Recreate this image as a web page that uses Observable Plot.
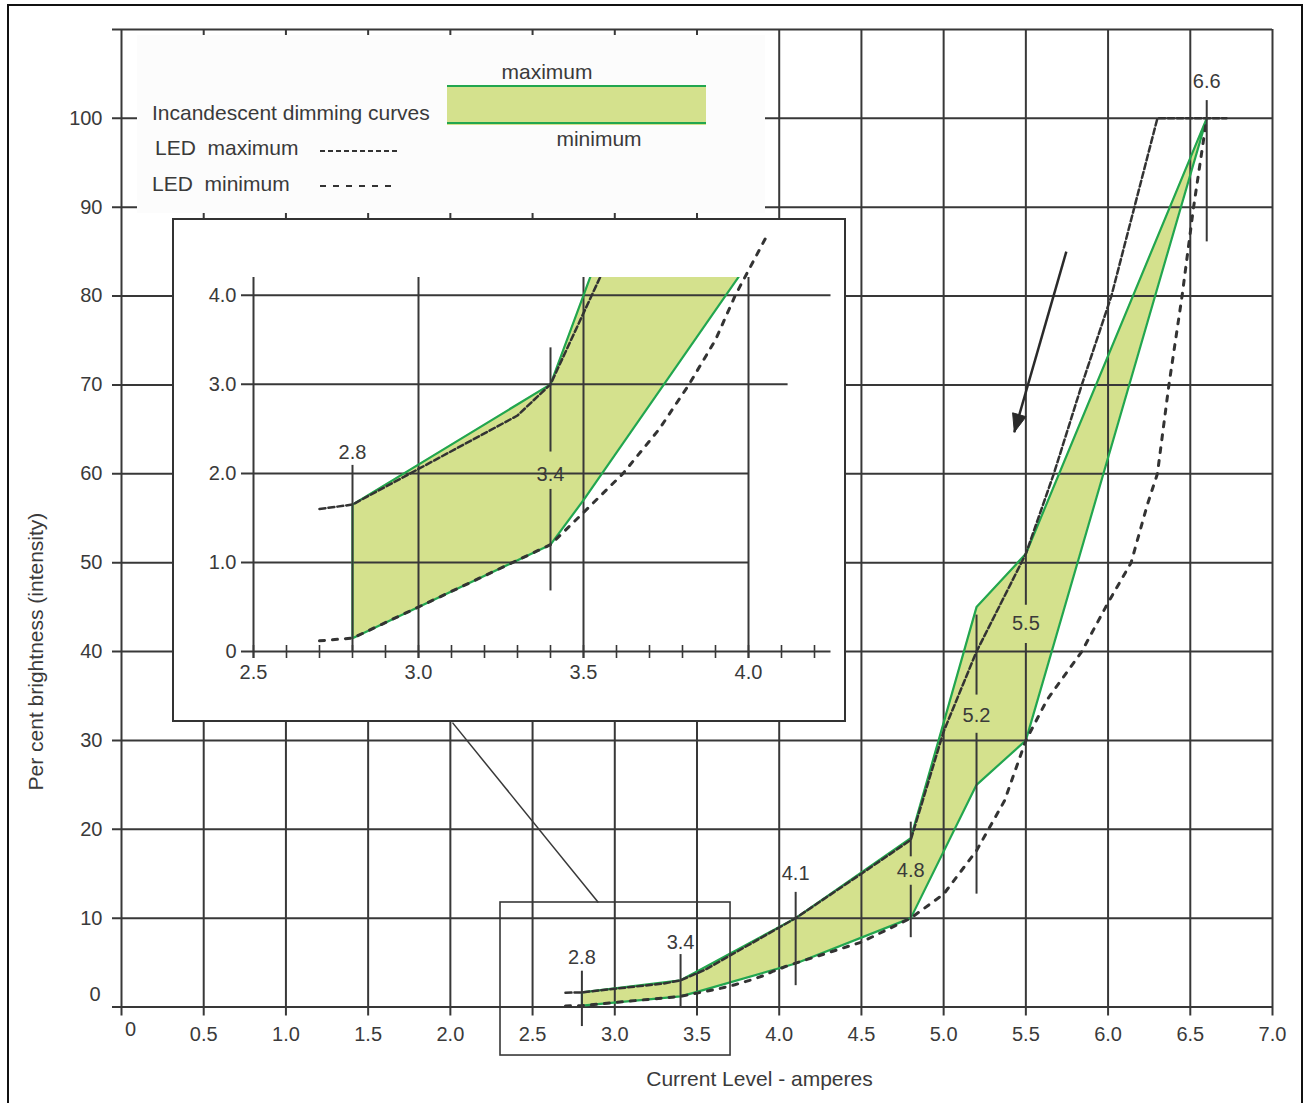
<!DOCTYPE html>
<html>
<head>
<meta charset="utf-8">
<script src="https://cdn.jsdelivr.net/npm/d3@7"></script>
<script src="https://cdn.jsdelivr.net/npm/@observablehq/plot@0.6"></script>
<style>
  body { margin: 0; background: #fff; }
  #wrap { position: relative; width: 1304px; height: 1103px; overflow: hidden; background: #fff; }
  #frame { position: absolute; left: 7px; top: 4px; width: 1296px; height: 1130px; border: 2.5px solid #111; box-sizing: border-box; pointer-events: none; }
  #insetBorder { position: absolute; left: 172px; top: 218px; width: 674px; height: 504px; border: 2px solid #333; box-sizing: border-box; pointer-events: none; }
</style>
</head>
<body>
<div id="wrap"></div>
<script>
// ---------------- DATA ----------------
// Incandescent dimming band (x = current in A, y = % brightness)
const incX   = [2.8, 3.4, 3.5, 4.1, 4.8, 5.2, 5.5, 6.6];
const incMax = [1.65, 3.0, 4.0, 10, 19, 45, 51, 100];
const incMin = [0.15, 1.2, 1.7, 4.9, 10, 25, 30, 100];

// LED maximum (fine dashes)
const ledMaxX = [2.7, 2.8, 3.0, 3.3, 3.4, 3.5, 3.55, 4.1, 4.5, 4.8, 5.0, 5.2, 5.5, 5.67, 5.84, 6.02, 6.16, 6.3, 6.72];
const ledMaxY = [1.6, 1.65, 2.05, 2.65, 3.0, 3.8, 4.2, 10, 15, 18.8, 31, 40, 51, 60, 70, 80, 90, 100, 100];

// LED minimum (coarse dashes)
const ledMinX = [2.7, 2.8, 3.4, 3.5, 3.62, 3.73, 3.82, 3.9, 3.96, 4.06, 4.5, 4.8, 5.0, 5.2, 5.37, 5.5, 5.63, 5.84, 6.0, 6.14, 6.24, 6.3, 6.37, 6.45, 6.52, 6.6];
const ledMinY = [0.12, 0.15, 1.2, 1.56, 2.0, 2.5, 3.0, 3.5, 4.0, 4.7, 7.3, 10, 12.7, 17.6, 23.2, 30, 34.6, 40, 45.5, 50, 56.6, 60, 70, 80, 90, 100];

// Main axes ticks
const xTicks = [0, 0.5, 1.0, 1.5, 2.0, 2.5, 3.0, 3.5, 4.0, 4.5, 5.0, 5.5, 6.0, 6.5, 7.0];
const yTicks = [0, 10, 20, 30, 40, 50, 60, 70, 80, 90, 100];
const xTitle = "Current Level - amperes";
const yTitle = "Per cent brightness (intensity)";

// Marker lines (vertical annotations) in the main chart
const segX    = [2.8, 3.4, 4.1, 4.8, 4.8, 5.2, 5.2, 5.5, 5.5, 6.6];
const segLow  = [-2.2, 0, 2.4, 7.8, 16.9, 12.7, 35.1, -1.0, 45.2, 86.1];
const segHigh = [4.03, 5.9, 12.9, 13.7, 20.8, 30.8, 44.1, 40.9, 110, 102];
const labelX    = [2.8, 3.4, 4.1, 4.8, 5.2, 5.5, 6.6];
const labelY    = [5.6, 7.3, 15.0, 15.4, 32.8, 43.2, 104.1];
const labelText = ["2.8", "3.4", "4.1", "4.8", "5.2", "5.5", "6.6"];

// Zoom box, callout and arrow (data units of the main chart)
const zoomBoxX = [2.305, 3.704];
const zoomBoxY = [-5.46, 11.76];
const calloutX = [2.013, 2.90];
const calloutY = [32.0, 11.76];
const arrowX = [5.746, 5.43];
const arrowY = [85.0, 64.7];

// Inset (zoomed) chart
const insetXTicks = [2.5, 3.0, 3.5, 4.0];
const insetMinor  = [2.5, 2.6, 2.7, 2.8, 2.9, 3.0, 3.1, 3.2, 3.3, 3.4, 3.5, 3.6, 3.7, 3.8, 3.9, 4.0, 4.1, 4.2];
const insetYTicks = [0, 1, 2, 3, 4];
const insetGridY   = [1, 2, 3, 4];
const insetGridEnd = [4.0, 4.0, 4.12, 4.25];
const insetSegX    = [2.8, 3.4, 3.4];
const insetSegLow  = [0, 0.68, 2.24];
const insetSegHigh = [2.09, 1.82, 3.41];
const insetLabelX = [2.8, 3.4];
const insetLabelY = [2.23, 1.99];
const insetLabelText = ["2.8", "3.4"];

// Legend
const legendLabels = ["Incandescent dimming curves", "LED  maximum", "LED  minimum"];
const bandLabels = ["maximum", "minimum"];

// ---------------- STYLE ----------------
const FONT = '"Liberation Sans", Arial, Helvetica, sans-serif';
const TEXT = "#3a3a3a";
const GRID = "#383838";
const FILL = "#d4e18d";
const GREEN = "#22a64f";
const DASH = "#333333";

// ---------------- BUILD ----------------
const band = incX.map((x, i) => ({x, lo: incMin[i], hi: incMax[i]}));
const outline = [
  ...incX.map((x, i) => ({x, y: incMax[i]})),
  ...incX.map((x, i) => ({x, y: incMin[i]})).reverse(),
  {x: incX[0], y: incMax[0]}
];
const ledMaxPts = ledMaxX.map((x, i) => ({x, y: ledMaxY[i]}));
const ledMinPts = ledMinX.map((x, i) => ({x, y: ledMinY[i]}));
const idx = a => a.map((_, i) => i);

const W = 1304, H = 1103, ML = 121, MR = 32, MT = 29, MB = 96.5;
const XD = [0, 7], YD = [0, 110];
const pxX = (W - ML - MR) / (XD[1] - XD[0]);
const pxY = (H - MT - MB) / (YD[1] - YD[0]);

// arrow head polygon, derived from the arrow end points
const sx = (arrowX[1] - arrowX[0]) * pxX, sy = -(arrowY[1] - arrowY[0]) * pxY;
const L = Math.hypot(sx, sy), ux = sx / L, uy = sy / L;
const hl = 18, hw = 7;
const toData = (px, py) => ({x: arrowX[1] + px / pxX, y: arrowY[1] - py / pxY});
const head = [
  toData(0, 0),
  toData(-ux * hl - uy * hw, -uy * hl + ux * hw),
  toData(-ux * hl + uy * hw, -uy * hl - ux * hw),
  toData(0, 0)
];

const main = Plot.plot({
  width: W, height: H,
  marginLeft: ML, marginRight: MR, marginTop: MT, marginBottom: MB,
  x: {domain: XD, ticks: xTicks, tickFormat: d => d === 0 ? "" : d.toFixed(1), tickSize: 0, tickPadding: 20, label: null},
  y: {domain: YD, ticks: yTicks, tickFormat: d => d === 0 ? "" : String(d), tickSize: 0, tickPadding: 19, label: null},
  style: {fontFamily: FONT, fontSize: "20px", color: TEXT, background: "transparent", overflow: "visible"},
  marks: [
    Plot.areaY(band, {x: "x", y1: "lo", y2: "hi", fill: FILL}),
    Plot.ruleX(xTicks.filter(d => d !== 5.5), {x: d => d, y1: -9 / pxY, y2: YD[1], stroke: GRID, strokeWidth: 2}),
    Plot.ruleY(yTicks.concat([YD[1]]), {y: d => d, x1: -9 / pxX, x2: XD[1], stroke: GRID, strokeWidth: 2}),
    Plot.line(outline, {x: "x", y: "y", stroke: GREEN, strokeWidth: 2.2}),
    Plot.line(ledMaxPts, {x: "x", y: "y", stroke: DASH, strokeWidth: 2.5, strokeDasharray: "6,3"}),
    Plot.line(ledMinPts, {x: "x", y: "y", stroke: DASH, strokeWidth: 3, strokeDasharray: "5,8"}),
    Plot.ruleX(idx(segX), {x: i => segX[i], y1: i => segLow[i], y2: i => segHigh[i], stroke: GRID, strokeWidth: 2}),
    Plot.text(idx(labelX), {x: i => labelX[i], y: i => labelY[i], text: i => labelText[i], fill: TEXT, fontSize: 20}),
    Plot.rect([0], {x1: () => zoomBoxX[0], x2: () => zoomBoxX[1], y1: () => zoomBoxY[0], y2: () => zoomBoxY[1], fill: "none", stroke: GRID, strokeWidth: 1.6}),
    Plot.link([0], {x1: () => calloutX[0], y1: () => calloutY[0], x2: () => calloutX[1], y2: () => calloutY[1], stroke: GRID, strokeWidth: 1.5}),
    Plot.link([0], {x1: () => arrowX[0], y1: () => arrowY[0], x2: () => arrowX[1], y2: () => arrowY[1], stroke: "#2a2a2a", strokeWidth: 2.5}),
    Plot.line(head, {x: "x", y: "y", fill: "#2a2a2a", stroke: "#2a2a2a", strokeWidth: 1}),
    Plot.text(["0"], {x: () => 0, frameAnchor: "bottom", dx: 9, dy: 28.5, text: d => d, fill: TEXT, fontSize: 20}),
    Plot.text(["0"], {y: () => 0, frameAnchor: "left", dx: -21, dy: -12.5, textAnchor: "end", text: d => d, fill: TEXT, fontSize: 20}),
    Plot.text([xTitle], {x: () => 3.88, frameAnchor: "bottom", dy: 79, text: d => d, fill: TEXT, fontSize: 21}),
    Plot.text([yTitle], {y: () => 40, frameAnchor: "left", textAnchor: "middle", dx: -85, rotate: -90, text: d => d, fill: TEXT, fontSize: 21})
  ]
});
main.style.position = "absolute";
main.style.left = "0px";
main.style.top = "0px";

// ---------------- INSET ----------------
const IW = 674, IH = 504, IML = 81, IMR = 15.5, IMT = 59, IMB = 71;
const IXD = [2.5, 4.25], IYD = [0, 4.2];
const ipxX = (IW - IML - IMR) / (IXD[1] - IXD[0]);
const ipxY = (IH - IMT - IMB) / (IYD[1] - IYD[0]);

const inset = Plot.plot({
  width: IW, height: IH,
  marginLeft: IML, marginRight: IMR, marginTop: IMT, marginBottom: IMB,
  x: {domain: IXD, ticks: insetXTicks, tickFormat: d => d.toFixed(1), tickSize: 0, tickPadding: 13, label: null},
  y: {domain: IYD, ticks: insetYTicks, tickFormat: d => d === 0 ? "0" : d.toFixed(1), tickSize: 0, tickPadding: 17, label: null},
  style: {fontFamily: FONT, fontSize: "20px", color: TEXT, background: "white", overflow: "hidden"},
  marks: [
    Plot.areaY(band, {x: "x", y1: "lo", y2: "hi", fill: FILL, clip: true}),
    Plot.ruleX(insetXTicks, {x: d => d, y1: -7 / ipxY, y2: IYD[1], stroke: GRID, strokeWidth: 2}),
    Plot.ruleY(idx(insetGridY), {y: i => insetGridY[i], x1: IXD[0] - 12 / ipxX, x2: i => insetGridEnd[i], stroke: GRID, strokeWidth: 2}),
    Plot.ruleY([0], {y: d => d, x1: IXD[0] - 12 / ipxX, x2: IXD[1], stroke: GRID, strokeWidth: 2}),
    Plot.ruleX(insetMinor, {x: d => d, y1: -7 / ipxY, y2: 6 / ipxY, stroke: GRID, strokeWidth: 1.6}),
    Plot.line(outline, {x: "x", y: "y", stroke: GREEN, strokeWidth: 2.2, clip: true}),
    Plot.line(ledMaxPts, {x: "x", y: "y", stroke: DASH, strokeWidth: 2.5, strokeDasharray: "6,3", clip: true}),
    Plot.line(ledMinPts.filter(d => d.x <= 4.06), {x: "x", y: "y", stroke: DASH, strokeWidth: 3, strokeDasharray: "5,8"}),
    Plot.ruleX(idx(insetSegX), {x: i => insetSegX[i], y1: i => insetSegLow[i], y2: i => insetSegHigh[i], stroke: GRID, strokeWidth: 2}),
    Plot.text(idx(insetLabelX), {x: i => insetLabelX[i], y: i => insetLabelY[i], text: i => insetLabelText[i], fill: TEXT, fontSize: 20})
  ]
});
inset.style.position = "absolute";
inset.style.left = "172px";
inset.style.top = "218px";

// ---------------- LEGEND ----------------
const LGX = 137, LGY = 35, LGW = 628, LGH = 178;
const lg = d3.create("svg").attr("width", LGW).attr("height", LGH)
  .style("position", "absolute").style("left", LGX + "px").style("top", LGY + "px")
  .style("font-family", FONT);
lg.append("rect").attr("width", LGW).attr("height", LGH).attr("fill", "#fcfcfc");
const lt = (x, y, s, anchor) => lg.append("text").attr("x", x).attr("y", y).attr("dy", "0.35em")
  .attr("text-anchor", anchor || "start").attr("font-size", 21).attr("fill", TEXT)
  .style("white-space", "pre").text(s);
lt(15, 78, legendLabels[0]);
lt(18, 113, legendLabels[1]);
lt(15, 149, legendLabels[2]);
lg.append("line").attr("x1", 183).attr("x2", 263).attr("y1", 116).attr("y2", 116)
  .attr("stroke", DASH).attr("stroke-width", 2).attr("stroke-dasharray", "5,3");
lg.append("line").attr("x1", 183).attr("x2", 258).attr("y1", 151).attr("y2", 151)
  .attr("stroke", DASH).attr("stroke-width", 2.2).attr("stroke-dasharray", "6,7");
lg.append("rect").attr("x", 310).attr("y", 51).attr("width", 259).attr("height", 39).attr("fill", FILL);
lg.append("line").attr("x1", 310).attr("x2", 569).attr("y1", 51).attr("y2", 51).attr("stroke", GREEN).attr("stroke-width", 2.2);
lg.append("line").attr("x1", 310).attr("x2", 569).attr("y1", 88).attr("y2", 88).attr("stroke", GREEN).attr("stroke-width", 2.2);
lt(410, 37, bandLabels[0], "middle");
lt(462, 104, bandLabels[1], "middle");

// ---------------- ASSEMBLE ----------------
const wrap = document.getElementById("wrap");
wrap.appendChild(main);
wrap.appendChild(lg.node());
wrap.appendChild(inset);
const ib = document.createElement("div"); ib.id = "insetBorder"; wrap.appendChild(ib);
const fr = document.createElement("div"); fr.id = "frame"; wrap.appendChild(fr);
</script>
</body>
</html>
